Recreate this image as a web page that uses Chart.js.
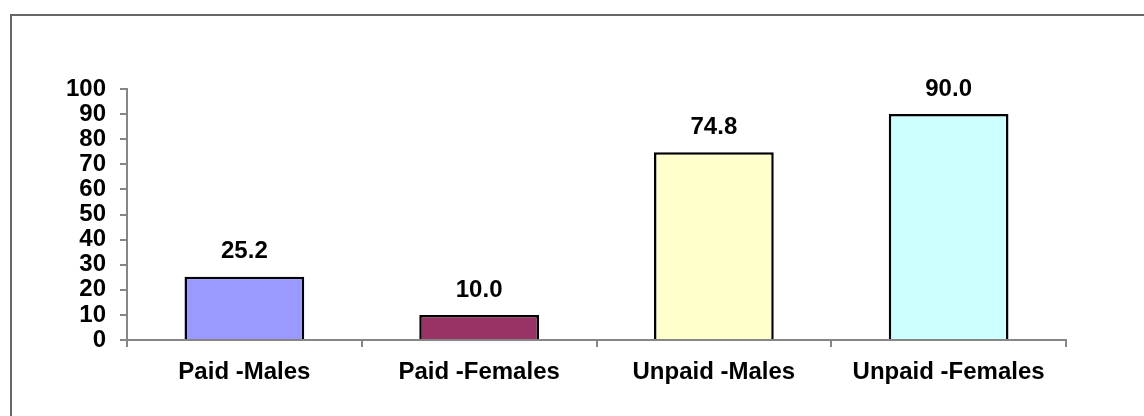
<!DOCTYPE html>
<html>
<head>
<meta charset="utf-8">
<script src="https://cdn.jsdelivr.net/npm/chart.js@4"></script>
<style>
  html, body { margin: 0; padding: 0; background: #fff; overflow: hidden; }
  #wrap { position: absolute; left: 0; top: 0; width: 1144px; height: 416px; }
  #frame { position: absolute; left: 10px; top: 14px; width: 1200px; height: 500px; border: 2px solid #666; box-sizing: border-box; }
</style>
</head>
<body>
<div id="frame"></div>
<div id="wrap"><canvas id="chart"></canvas></div>
<script>
// chart data
const categories = ['Paid -Males', 'Paid -Females', 'Unpaid -Males', 'Unpaid -Females'];
const shares = [25.2, 10.0, 74.8, 90.0];
const barColors = ['#9999FF', '#993366', '#FFFFCC', '#CCFFFF'];
const yTicks = [0, 10, 20, 30, 40, 50, 60, 70, 80, 90, 100];

const FONT = { family: "'Liberation Sans', Arial, sans-serif", size: 24, weight: 'bold' };
const AXIS_GREY = '#868686';

// draws the value above each bar
const valueLabels = {
  id: 'valueLabels',
  afterDatasetsDraw(chart) {
    const ctx = chart.ctx;
    const meta = chart.getDatasetMeta(0);
    ctx.save();
    ctx.font = `bold ${FONT.size}px ${FONT.family}`;
    ctx.fillStyle = '#000';
    ctx.textAlign = 'center';
    ctx.textBaseline = 'middle';
    meta.data.forEach((bar, i) => {
      ctx.fillText(shares[i].toFixed(1), bar.x, bar.y - 25);
    });
    ctx.restore();
  }
};

new Chart(document.getElementById('chart'), {
  type: 'bar',
  data: {
    labels: categories,
    datasets: [{
      data: shares,
      backgroundColor: barColors,
      borderColor: '#000',
      borderWidth: 2.5,
      barPercentage: 0.51,
      categoryPercentage: 1.0
    }]
  },
  options: {
    responsive: true,
    maintainAspectRatio: false,
    animation: false,
    layout: { padding: { top: 89, right: 78, left: 0, bottom: 0 } },
    plugins: {
      legend: { display: false },
      tooltip: { enabled: false }
    },
    scales: {
      y: {
        min: 0,
        max: 100,
        afterFit: s => { s.width = 127; },
        afterBuildTicks: s => { s.ticks = yTicks.map(v => ({ value: v })); },
        ticks: { autoSkip: false, color: '#000', font: FONT, padding: 14 },
        grid: { drawOnChartArea: false, tickLength: 7, color: AXIS_GREY, lineWidth: 2 },
        border: { color: AXIS_GREY, width: 2 }
      },
      x: {
        afterFit: s => { s.height = 76; },
        ticks: { color: '#000', font: FONT, padding: 11 },
        grid: { offset: true, drawOnChartArea: false, tickLength: 7, color: AXIS_GREY, lineWidth: 2 },
        border: { color: AXIS_GREY, width: 2 }
      }
    }
  },
  plugins: [valueLabels]
});
</script>
</body>
</html>
